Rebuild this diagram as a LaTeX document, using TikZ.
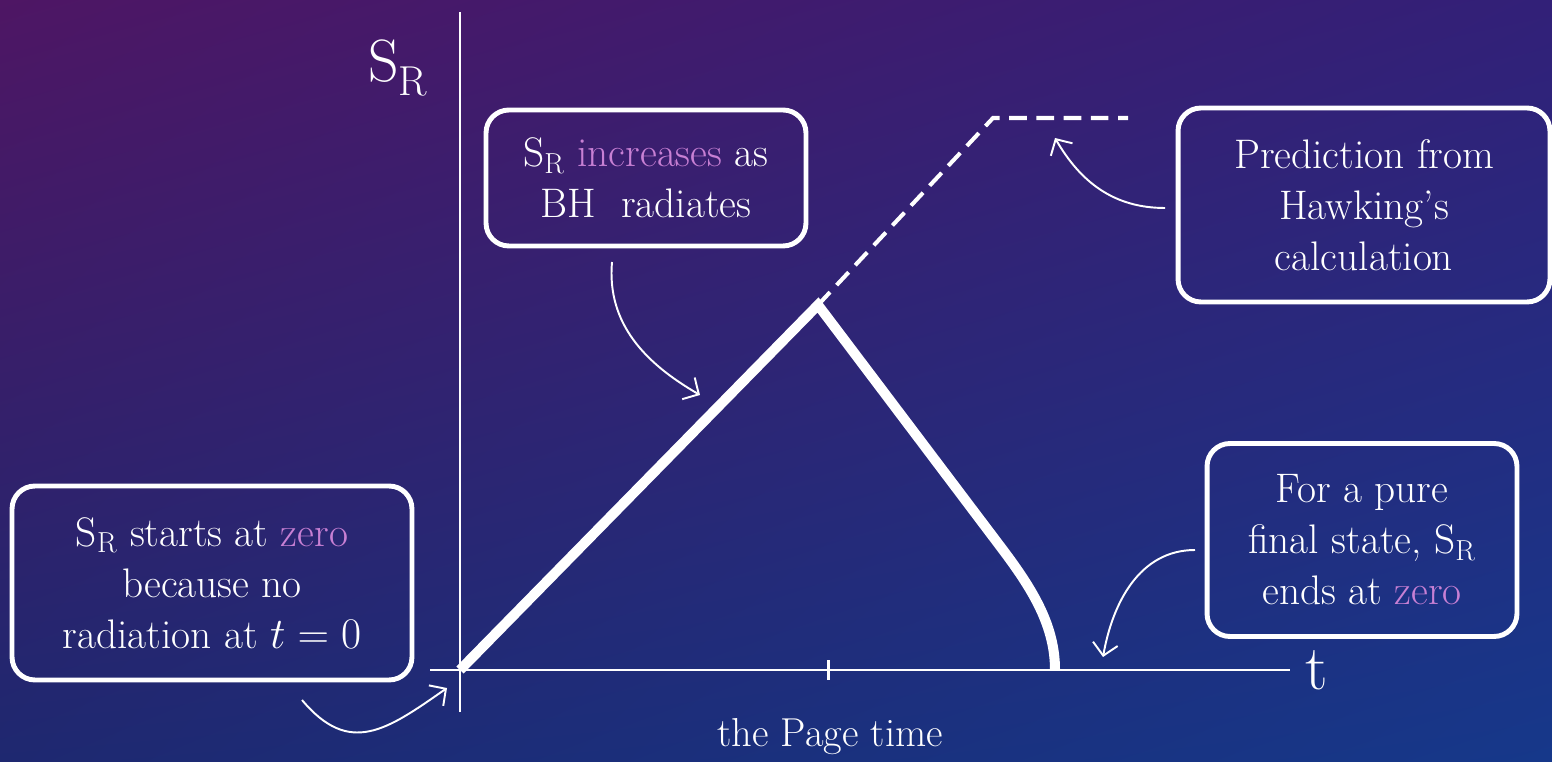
\documentclass[tikz,border=0pt]{standalone}
\usepackage{amsmath}
\usepackage{tikz}
\definecolor{bgtl}{RGB}{78,22,100}
\definecolor{bgtr}{RGB}{50,32,120}
\definecolor{bgbl}{RGB}{30,40,112}
\definecolor{bgbr}{RGB}{22,56,138}
\definecolor{hlpink}{RGB}{200,128,212}
\usetikzlibrary{arrows.meta,positioning,shadings}

\begin{document}
\begin{tikzpicture}[x=0.02cm,y=0.02cm,
  notebox/.style={draw=white,line width=2.8pt,rounded corners=13pt,text=white,
    align=center,font=\fontsize{23.5}{29}\selectfont,inner sep=0pt},
  arr/.style={-{Straight Barb[length=2.4mm,width=5mm]},white,line width=1.1pt},
  axisline/.style={white,line width=1.7pt},
  lbl/.style={text=white,inner sep=0pt}
]
  % background
  \useasboundingbox (0,0) rectangle (1552,761);
  \shade[upper left=bgtl,upper right=bgtr,lower left=bgbl,lower right=bgbr]
    (0,0) rectangle (1552,761);

  % axes
  \coordinate (O) at (460,91);
  \coordinate (ytop) at (460,749);
  \coordinate (ybot) at (460,49);
  \coordinate (xleft) at (430,91);
  \coordinate (xright) at (1290,91);
  \draw[axisline] (ybot) -- (ytop);
  \draw[axisline] (xleft) -- (xright);
  \node[lbl,font=\fontsize{34}{34}\selectfont] (ylab) at (398,693) {S\textsubscript{R}};
  \node[lbl,anchor=west,font=\fontsize{36}{36}\selectfont] (xlab) at (1305,91) {t};
  \coordinate (page) at (828,91);
  \draw[axisline] ([yshift=0.2cm]page) -- ([yshift=-0.2cm]page);
  \node[lbl,font=\fontsize{23}{26}\selectfont] (pagelab) at (830,24) {the Page time};

  % entropy curves
  \coordinate (peak) at (818,456);
  \coordinate (knee) at (1003,211);
  \coordinate (tend) at (1055,91);
  \coordinate (hcorner) at (993,643);
  \coordinate (hend) at (1128,643);
  \draw[white,line width=5.7pt] (O) -- (peak) -- (knee)
    .. controls (1033,171) and (1055,135) .. (tend);
  \draw[white,line width=2.3pt,dash pattern=on 10pt off 5.5pt] (peak) -- (hcorner) -- (hend);

  % notes
  \node[notebox,minimum width=6.4cm,minimum height=2.72cm] (incr) at (646,583)
    {S\textsubscript{R} \textcolor{hlpink}{increases} as\\BH~ radiates};
  \node[notebox,minimum width=7.44cm,minimum height=3.88cm] (hawk) at (1364,556)
    {Prediction from\\Hawking's\\calculation};
  \node[notebox,minimum width=6.2cm,minimum height=3.86cm] (pure) at (1362,221)
    {For a pure\\final state, S\textsubscript{R}\\ends at \textcolor{hlpink}{zero}};
  \node[notebox,minimum width=8cm,minimum height=3.88cm] (start) at (212,178)
    {S\textsubscript{R} starts at \textcolor{hlpink}{zero}\\because no\\radiation at $t=0$};

  % pointers
  \coordinate (incrA) at (612,499);
  \coordinate (incrB) at (700,366);
  \coordinate (hawkA) at (1165,553);
  \coordinate (hawkB) at (1055,623);
  \coordinate (pureA) at (1195,211);
  \coordinate (pureB) at (1103,104);
  \coordinate (startA) at (302,61);
  \coordinate (startB) at (447,73);
  \draw[arr] (incrA) to[out=-95,in=150] (incrB);
  \draw[arr] (hawkA) to[out=180,in=-60] (hawkB);
  \draw[arr] (pureA) to[out=180,in=80] (pureB);
  \draw[arr] (startA) to[out=-50,in=215,looseness=1.3] (startB);
\end{tikzpicture}
\end{document}
